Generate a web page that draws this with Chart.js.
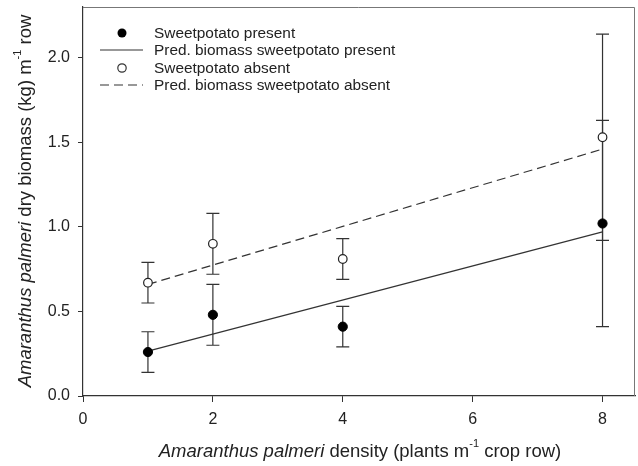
<!DOCTYPE html>
<html>
<head>
<meta charset="utf-8">
<script src="https://cdn.jsdelivr.net/npm/chart.js@4/dist/chart.umd.min.js"></script>
<style>
html,body{margin:0;padding:0;background:#fff;}
#wrap{width:638px;height:466px;}
</style>
</head>
<body>
<div id="wrap"><canvas id="c" width="638" height="466"></canvas></div>
<script>
// ---- data ----
const xValues = [1, 2, 4, 8];
const presentMean = [0.26, 0.48, 0.41, 1.02];
const presentErr = [0.12, 0.18, 0.12, 0.61];
const absentMean = [0.67, 0.90, 0.81, 1.53];
const absentErr = [0.12, 0.18, 0.12, 0.61];
const predX = [1, 8];
const predPresent = [0.265, 0.97];
const predAbsent = [0.66, 1.46];
const xTicks = [0, 2, 4, 6, 8];
const yTicks = [0.0, 0.5, 1.0, 1.5, 2.0];
const legendLabels = ['Sweetpotato present', 'Pred. biomass sweetpotato present', 'Sweetpotato absent', 'Pred. biomass sweetpotato absent'];
const xTitle = [{t: 'Amaranthus palmeri', i: true}, {t: ' density (plants m'}, {t: '-1', s: true}, {t: ' crop row)'}];
const yTitle = [{t: 'Amaranthus palmeri', i: true}, {t: ' dry biomass (kg) m'}, {t: '-1', s: true}, {t: ' row'}];

const FONT = '"Liberation Sans", Arial, sans-serif';
const INK = '#222';

function pts(xs, ys) { return xs.map((x, k) => ({x: x, y: ys[k]})); }

function richWidth(ctx, segs, size) {
  let w = 0;
  segs.forEach(sg => {
    const fs = sg.s ? Math.round(size * 0.62) : size;
    ctx.font = (sg.i ? 'italic ' : '') + fs + 'px ' + FONT;
    w += ctx.measureText(sg.t).width;
  });
  return w;
}
function drawRich(ctx, segs, size, cx, cy) {
  const w = richWidth(ctx, segs, size);
  let x = cx - w / 2;
  ctx.textBaseline = 'middle';
  ctx.textAlign = 'left';
  ctx.fillStyle = INK;
  segs.forEach(sg => {
    const fs = sg.s ? Math.round(size * 0.62) : size;
    ctx.font = (sg.i ? 'italic ' : '') + fs + 'px ' + FONT;
    ctx.fillText(sg.t, x, sg.s ? cy - size * 0.42 : cy);
    x += ctx.measureText(sg.t).width;
  });
}

const extras = {
  id: 'extras',
  beforeDatasetsDraw(chart) {
    const ctx = chart.ctx, xs = chart.scales.x, ys = chart.scales.y;
    ctx.save();
    ctx.strokeStyle = '#333';
    ctx.lineWidth = 1.2;
    const bars = (means, errs) => {
      xValues.forEach((xv, k) => {
        const px = xs.getPixelForValue(xv);
        const top = ys.getPixelForValue(means[k] + errs[k]);
        const bot = ys.getPixelForValue(means[k] - errs[k]);
        ctx.beginPath();
        ctx.moveTo(px, top); ctx.lineTo(px, bot);
        ctx.moveTo(px - 6.5, top); ctx.lineTo(px + 6.5, top);
        ctx.moveTo(px - 6.5, bot); ctx.lineTo(px + 6.5, bot);
        ctx.stroke();
      });
    };
    bars(absentMean, absentErr);
    bars(presentMean, presentErr);
    ctx.restore();
  },
  afterDraw(chart) {
    const ctx = chart.ctx, a = chart.chartArea;
    ctx.save();
    // frame top/right
    ctx.strokeStyle = '#777';
    ctx.lineWidth = 1;
    ctx.beginPath();
    ctx.moveTo(a.left, a.top + 0.5); ctx.lineTo(a.right - 0.5, a.top + 0.5); ctx.lineTo(a.right - 0.5, a.bottom);
    ctx.stroke();
    // legend
    const lx = 100, lx2 = 143, mx = 122, tx = 154;
    const rows = [33, 50, 68, 85];
    ctx.font = '15.4px ' + FONT;
    ctx.textBaseline = 'middle';
    ctx.textAlign = 'left';
    ctx.fillStyle = INK;
    legendLabels.forEach((lab, k) => ctx.fillText(lab, tx, rows[k] + 1));
    ctx.fillStyle = '#000';
    ctx.beginPath(); ctx.arc(mx, rows[0], 4.5, 0, Math.PI * 2); ctx.fill();
    ctx.strokeStyle = '#333'; ctx.lineWidth = 1.2;
    ctx.beginPath(); ctx.moveTo(lx, rows[1]); ctx.lineTo(lx2, rows[1]); ctx.stroke();
    ctx.fillStyle = '#fff';
    ctx.beginPath(); ctx.arc(mx, rows[2], 4.2, 0, Math.PI * 2); ctx.fill(); ctx.stroke();
    ctx.setLineDash([9, 5]);
    ctx.beginPath(); ctx.moveTo(lx, rows[3]); ctx.lineTo(lx2, rows[3]); ctx.stroke();
    ctx.setLineDash([]);
    // axis titles
    drawRich(ctx, xTitle, 18.5, 360, 452);
    ctx.translate(26, 201);
    ctx.rotate(-Math.PI / 2);
    drawRich(ctx, yTitle, 18.5, 0, 0);
    ctx.restore();
  }
};

new Chart(document.getElementById('c'), {
  type: 'scatter',
  data: {
    datasets: [
      {label: legendLabels[0], data: pts(xValues, presentMean), pointRadius: 4.6, pointBackgroundColor: '#000', pointBorderColor: '#000', pointBorderWidth: 1, showLine: false, order: 0},
      {label: legendLabels[2], data: pts(xValues, absentMean), pointRadius: 4.3, pointBackgroundColor: '#fff', pointBorderColor: '#222', pointBorderWidth: 1.2, showLine: false, order: 0},
      {label: legendLabels[1], data: pts(predX, predPresent), showLine: true, pointRadius: 0, borderColor: '#333', borderWidth: 1.2, order: 1},
      {label: legendLabels[3], data: pts(predX, predAbsent), showLine: true, pointRadius: 0, borderColor: '#333', borderWidth: 1.2, borderDash: [9, 5], order: 1}
    ]
  },
  options: {
    responsive: false,
    animation: false,
    devicePixelRatio: 1,
    layout: {autoPadding: false, padding: {top: 7, right: 3, left: 0, bottom: 0}},
    plugins: {legend: {display: false}, tooltip: {enabled: false}},
    scales: {
      x: {
        type: 'linear', position: 'bottom', min: 0, max: 8.5,
        afterFit(s) { s.height = 70; s.paddingLeft = 0; s.paddingRight = 0; },
        afterBuildTicks(s) { s.ticks = xTicks.map(v => ({value: v})); },
        ticks: {font: {family: FONT, size: 16}, color: INK, padding: 8, callback: v => String(v), maxRotation: 0},
        grid: {display: true, drawOnChartArea: false, drawTicks: true, tickLength: 6, color: '#333', lineWidth: 1},
        border: {display: true, color: '#333', width: 1.2},
        title: {display: false}
      },
      y: {
        type: 'linear', position: 'left', min: 0, max: 2.3,
        afterFit(s) { s.width = 83; s.paddingTop = 0; s.paddingBottom = 0; },
        afterBuildTicks(s) { s.ticks = yTicks.map(v => ({value: v})); },
        ticks: {font: {family: FONT, size: 16}, color: INK, padding: 8, callback: v => Number(v).toFixed(1)},
        grid: {display: true, drawOnChartArea: false, drawTicks: true, tickLength: 5, color: '#333', lineWidth: 1},
        border: {display: true, color: '#333', width: 1.2},
        title: {display: false}
      }
    }
  },
  plugins: [extras]
});
</script>
</body>
</html>
